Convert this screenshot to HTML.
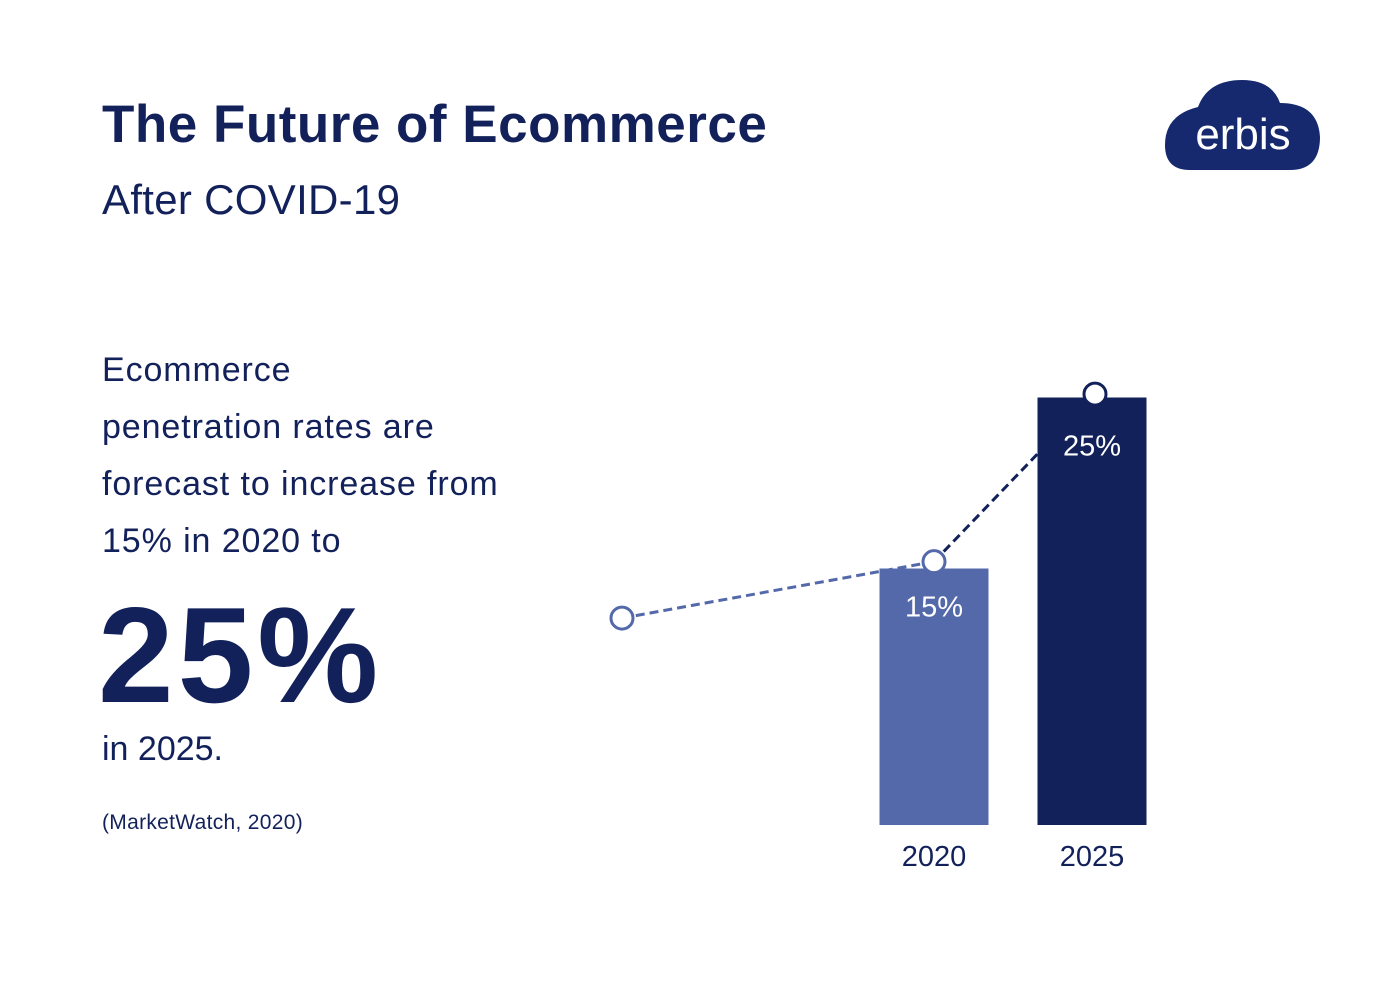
<!DOCTYPE html>
<html><head><meta charset="utf-8"><style>
body{margin:0;width:1400px;height:996px;background:#fff;font-family:"Liberation Sans",sans-serif;color:#13215a;position:relative;overflow:hidden}
.a{position:absolute;margin:0}
</style></head><body>
<h1 class="a" style="left:102px;top:94px;font-size:53px;font-weight:bold;letter-spacing:0.5px">The Future of Ecommerce</h1>
<div class="a" style="left:102px;top:176px;font-size:42px;letter-spacing:0.3px">After COVID-19</div>
<svg class="a" style="left:1160px;top:75px" width="170" height="100" viewBox="0 0 170 100">
<path d="M30 95 Q5 95 5 70 Q5 40 38 32 Q48 5 82 5 Q112 5 120 28 Q158 28 160 62 Q160 95 130 95 Z" fill="#16296e"/>
<text x="83" y="74" text-anchor="middle" font-size="44" fill="#fff" font-family="Liberation Sans">erbis</text>
</svg>
<div class="a" style="left:102px;top:342px;font-size:34px;line-height:57px;letter-spacing:0.9px">Ecommerce<br>penetration rates are<br>forecast to increase from<br>15% in 2020 to</div>
<div class="a" style="left:98px;top:585px;font-size:136px;font-weight:bold;letter-spacing:4px;line-height:140px">25%</div>
<div class="a" style="left:102px;top:730px;font-size:34px">in 2025.</div>
<div class="a" style="left:102px;top:811px;font-size:21px;letter-spacing:0.3px">(MarketWatch, 2020)</div>
<svg class="a" id="chart" style="left:0;top:0" width="1400" height="996"></svg>
<script>
const categories=["2020","2025"];
const values=[15,25];
const labels=["15%","25%"];
const lineX=[622,934,1095];
const lineVals=[12.1,15.4,25.2];
const colors=["#5469aa","#13215a"];
const NS="http://www.w3.org/2000/svg";
const svg=document.getElementById('chart');
const base=825,unit=17.1;
const y=v=>base-v*unit;
const xc=i=>934+i*158;
function mk(t,a){const e=document.createElementNS(NS,t);for(const k in a)e.setAttribute(k,a[k]);svg.appendChild(e);return e;}
values.forEach((v,i)=>{
 const r=mk('rect',{x:xc(i)-54.5,y:y(v),width:109,height:base-y(v),fill:colors[i]});
 
 
 const t=mk('text',{x:xc(i),y:y(v)+(i==1?58:48),'text-anchor':'middle','font-size':29,fill:'#fff','font-family':'Liberation Sans'});
 t.textContent=labels[i];
 
 
 const c=mk('text',{x:xc(i),y:866,'text-anchor':'middle','font-size':29,fill:'#13215a','font-family':'Liberation Sans'});
 c.textContent=categories[i];
 
 
});
for(let i=0;i<lineX.length-1;i++){
 const l=mk('line',{x1:lineX[i],y1:y(lineVals[i]),x2:lineX[i+1],y2:y(lineVals[i+1]),stroke:colors[i],'stroke-width':3,'stroke-dasharray':'9 5'});
 
 
}
lineX.forEach((x,i)=>{
 const c=mk('circle',{cx:x,cy:y(lineVals[i]),r:11,fill:'#fff',stroke:i==2?colors[1]:colors[0],'stroke-width':3});
 
 
});
</script>
</body></html>
